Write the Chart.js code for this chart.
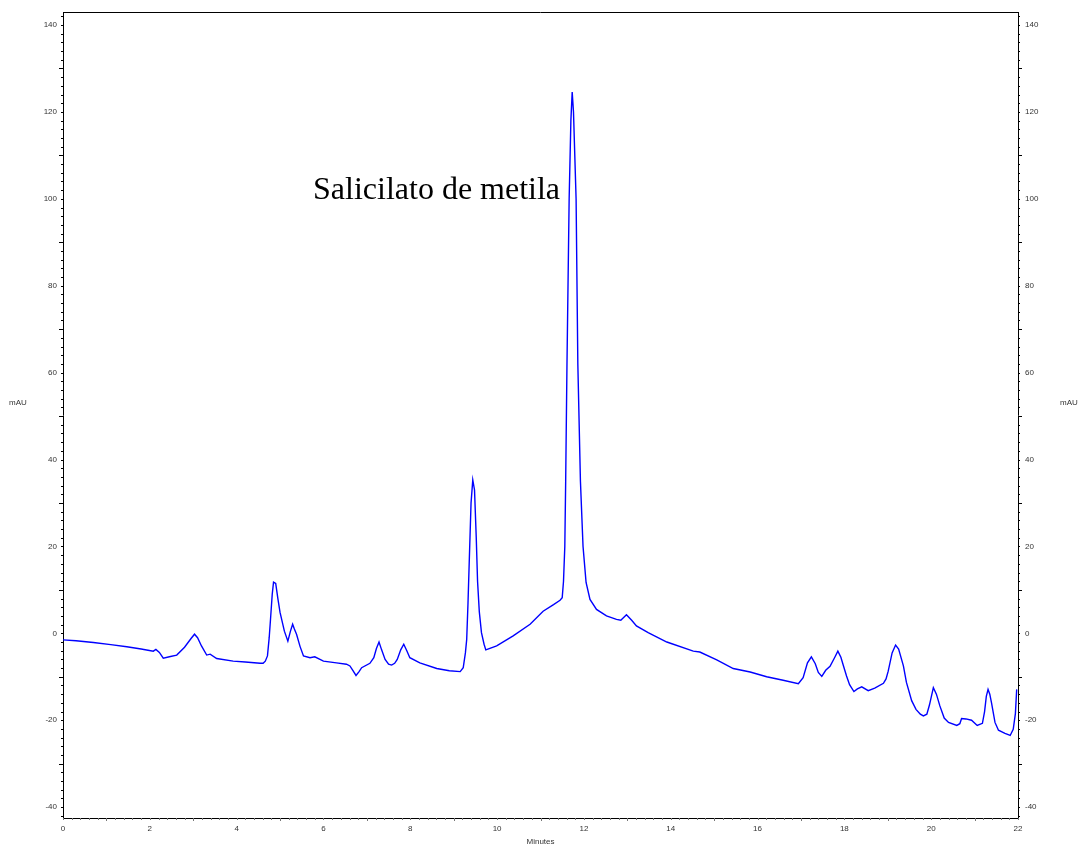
<!DOCTYPE html>
<html>
<head>
<meta charset="utf-8">
<title>Cromatograma</title>
<script src="https://cdn.jsdelivr.net/npm/chart.js@4.4.1/dist/chart.umd.min.js"></script>
<style>
    html, body { margin: 0; padding: 0; background: #ffffff; }
    #chromatogram { display: block; }
</style>
</head>
<body>
<canvas id="chromatogram" width="1080" height="848"></canvas>
<script>
const tempos = [
    0.00, 0.30, 0.70, 1.10, 1.47, 1.80, 2.08, 2.14, 2.22, 2.31, 2.45, 2.62, 2.80, 2.95, 3.03, 3.10,
    3.19, 3.31, 3.39, 3.54, 3.92, 4.20, 4.54, 4.61, 4.66, 4.71, 4.75, 4.78, 4.82, 4.85, 4.90, 4.95,
    5.00, 5.10, 5.18, 5.24, 5.29, 5.33, 5.38, 5.46, 5.54, 5.69, 5.80, 5.92, 6.00, 6.30, 6.53, 6.61,
    6.68, 6.75, 6.82, 6.88, 7.07, 7.16, 7.22, 7.28, 7.34, 7.42, 7.50, 7.57, 7.64, 7.70, 7.78, 7.85,
    7.92, 7.99, 8.22, 8.61, 8.90, 9.15, 9.22, 9.27, 9.30, 9.33, 9.36, 9.40, 9.44, 9.48, 9.52, 9.55,
    9.59, 9.64, 9.70, 9.74, 9.99, 10.37, 10.76, 11.06, 11.30, 11.45, 11.50, 11.53, 11.56, 11.58, 11.61, 11.66,
    11.70, 11.73, 11.76, 11.82, 11.86, 11.92, 11.98, 12.05, 12.14, 12.29, 12.52,
    12.75, 12.85, 12.98, 13.10, 13.21, 13.48, 13.91, 14.52, 14.67, 15.06, 15.44, 15.83, 16.21, 16.59, 16.94, 17.05,
    17.15, 17.24, 17.33, 17.40, 17.48, 17.57, 17.67, 17.78, 17.85, 17.92, 17.98, 18.05, 18.12, 18.22, 18.30, 18.40,
    18.55, 18.70, 18.90, 18.96, 19.01, 19.10, 19.18, 19.25, 19.36, 19.43, 19.55, 19.65, 19.75, 19.82, 19.90, 19.96,
    20.05, 20.12, 20.20, 20.30, 20.40, 20.59, 20.66, 20.70, 20.80, 20.93, 21.06, 21.18, 21.23, 21.27, 21.31, 21.35,
    21.39, 21.47, 21.55, 21.70, 21.82, 21.89, 21.94, 21.97
];

const sinal = [
    -1.5, -1.7, -2.1, -2.6, -3.1, -3.6, -4.1, -3.7, -4.4, -5.7, -5.4, -5.0, -3.2, -1.2, -0.2, -1.0,
    -2.9, -5.0, -4.8, -5.8, -6.4, -6.6, -6.9, -6.9, -6.4, -5.2, -1.0, 3.2, 9.0, 11.8, 11.5, 8.0,
    4.8, 0.5, -1.8, 0.5, 2.1, 1.0, -0.2, -3.0, -5.2, -5.6, -5.4, -6.0, -6.4, -6.8, -7.1, -7.5,
    -8.6, -9.7, -8.8, -7.9, -6.9, -5.6, -3.5, -2.0, -3.8, -6.0, -7.1, -7.3, -6.9, -6.0, -3.8, -2.5,
    -4.0, -5.6, -6.8, -8.1, -8.6, -8.8, -7.9, -4.5, -1.4, 7.0, 17.0, 30.0, 35.3, 33.0, 22.0, 12.0,
    5.0, 0.15, -2.5, -3.8, -2.9, -0.6, 2.1, 5.1, 6.6, 7.6, 8.2, 12.0, 20.0, 35.0, 62.0, 100.0,
    118.0, 124.6, 120.0, 100.0, 62.0, 35.0, 20.0, 11.7, 7.8, 5.5, 4.0,
    3.2, 3.0, 4.3, 3.0, 1.7, 0.15, -2.0, -4.1, -4.3, -6.1, -8.1, -8.9, -10.0, -10.8, -11.6, -10.2,
    -6.8, -5.4, -7.0, -9.0, -9.9, -8.5, -7.6, -5.5, -4.1, -5.5, -7.5, -9.8, -11.8, -13.4, -12.8, -12.3,
    -13.2, -12.6, -11.5, -10.5, -8.7, -4.5, -2.7, -3.6, -7.5, -11.3, -15.5, -17.5, -18.6, -19.0, -18.6, -16.5,
    -12.5, -14.0, -16.7, -19.5, -20.5, -21.2, -20.8, -19.6, -19.7, -20.0, -21.2, -20.7, -18.0, -14.5, -12.9, -14.0,
    -16.0, -20.5, -22.3, -23.0, -23.5, -22.1, -18.5, -12.9
];

// Rótulos dos eixos e anotação
const rotuloY = 'mAU';
const rotuloX = 'Minutes';
const anotacao = { texto: 'Salicilato de metila', t: 5.76, v: 100 };

const fonteEixo = '8px "Liberation Sans", Arial, sans-serif';
const corTexto = '#333333';

// Plugin: moldura superior, marcas dos eixos, títulos e anotação
const decoracao = {
    id: 'decoracao',
    afterDraw(chart) {
        const ctx = chart.ctx;
        const area = chart.chartArea;
        const x = chart.scales.x;
        const yEsq = chart.scales.y;
        const yDir = chart.scales.y2;

        ctx.save();

        // linha superior
        ctx.strokeStyle = '#000000';
        ctx.lineWidth = 1;
        ctx.beginPath();
        ctx.moveTo(area.left, area.top + 0.5);
        ctx.lineTo(area.right, area.top + 0.5);
        ctx.stroke();

        // marcas do eixo y (a cada 2, maiores a cada 10)
        ctx.strokeStyle = '#000000';
        ctx.beginPath();
        for (let v = -42; v <= 142; v += 2) {
            let comp = (v % 10 === 0 && v % 20 !== 0) ? 4 : 2;
            let py = Math.round(yEsq.getPixelForValue(v)) + 0.5;
            ctx.moveTo(area.left, py);
            ctx.lineTo(area.left - comp, py);
            let py2 = Math.round(yDir.getPixelForValue(v)) + 0.5;
            ctx.moveTo(area.right, py2);
            ctx.lineTo(area.right + comp, py2);
        }
        ctx.stroke();

        // marcas do eixo x (a cada 0.2 min, maiores nos minutos ímpares)
        ctx.strokeStyle = '#777777';
        ctx.beginPath();
        for (let i = 0; i <= 110; i++) {
            let t = i * 0.2;
            let comp = (i % 10 === 5) ? 3 : 2;
            let px = Math.round(x.getPixelForValue(t)) + 0.5;
            ctx.moveTo(px, area.bottom);
            ctx.lineTo(px, area.bottom + comp);
        }
        ctx.stroke();

        // títulos dos eixos
        ctx.fillStyle = corTexto;
        ctx.font = fonteEixo;
        ctx.textAlign = 'center';
        ctx.textBaseline = 'middle';
        ctx.fillText(rotuloY, 18, (area.top + area.bottom) / 2 - 12);
        ctx.fillText(rotuloY, 1069, (area.top + area.bottom) / 2 - 12);
        ctx.fillText(rotuloX, (area.left + area.right) / 2, 842);

        // anotação do pico
        ctx.fillStyle = '#000000';
        ctx.font = '32px "Liberation Serif", "Times New Roman", serif';
        ctx.textAlign = 'left';
        ctx.textBaseline = 'alphabetic';
        ctx.fillText(anotacao.texto, x.getPixelForValue(anotacao.t), yEsq.getPixelForValue(anotacao.v));

        ctx.restore();
    }
};

function somenteMultiplos(passo) {
    return function (scale) {
        scale.ticks = scale.ticks.filter(t => Math.abs(t.value % passo) < 1e-9);
    };
}

const ctx = document.getElementById('chromatogram').getContext('2d');
const grafico = new Chart(ctx, {
    type: 'scatter',
    data: {
        datasets: [{
            label: 'Sinal',
            data: tempos.map((t, i) => ({ x: t, y: sinal[i] })),
            showLine: true,
            borderColor: '#0000ff',
            borderWidth: 1.4,
            pointRadius: 0,
            tension: 0
        }]
    },
    options: {
        responsive: false,
        animation: false,
        devicePixelRatio: 1,
        layout: { padding: { top: 12, left: 0, right: 0, bottom: 0 } },
        plugins: {
            legend: { display: false },
            tooltip: { enabled: false }
        },
        scales: {
            x: {
                type: 'linear',
                min: 0,
                max: 22,
                grid: { display: false, drawTicks: false },
                border: { display: true, color: '#000000', width: 1 },
                ticks: {
                    stepSize: 2,
                    padding: 6,
                    color: corTexto,
                    font: { family: '"Liberation Sans", Arial, sans-serif', size: 8 },
                    maxRotation: 0
                },
                afterBuildTicks: somenteMultiplos(2),
                afterFit(scale) { scale.height = 30; }
            },
            y: {
                type: 'linear',
                position: 'left',
                min: -42.5,
                max: 143,
                grid: { display: false, drawTicks: false },
                border: { display: true, color: '#000000', width: 1 },
                ticks: {
                    stepSize: 20,
                    padding: 6,
                    color: corTexto,
                    font: { family: '"Liberation Sans", Arial, sans-serif', size: 8 }
                },
                afterBuildTicks: somenteMultiplos(20),
                afterFit(scale) { scale.width = 63; }
            },
            y2: {
                type: 'linear',
                position: 'right',
                min: -42.5,
                max: 143,
                grid: { display: false, drawTicks: false },
                border: { display: true, color: '#000000', width: 1 },
                ticks: {
                    stepSize: 20,
                    padding: 7,
                    color: corTexto,
                    font: { family: '"Liberation Sans", Arial, sans-serif', size: 8 }
                },
                afterBuildTicks: somenteMultiplos(20),
                afterFit(scale) { scale.width = 62; }
            }
        }
    },
    plugins: [decoracao]
});
</script>
</body>
</html>
